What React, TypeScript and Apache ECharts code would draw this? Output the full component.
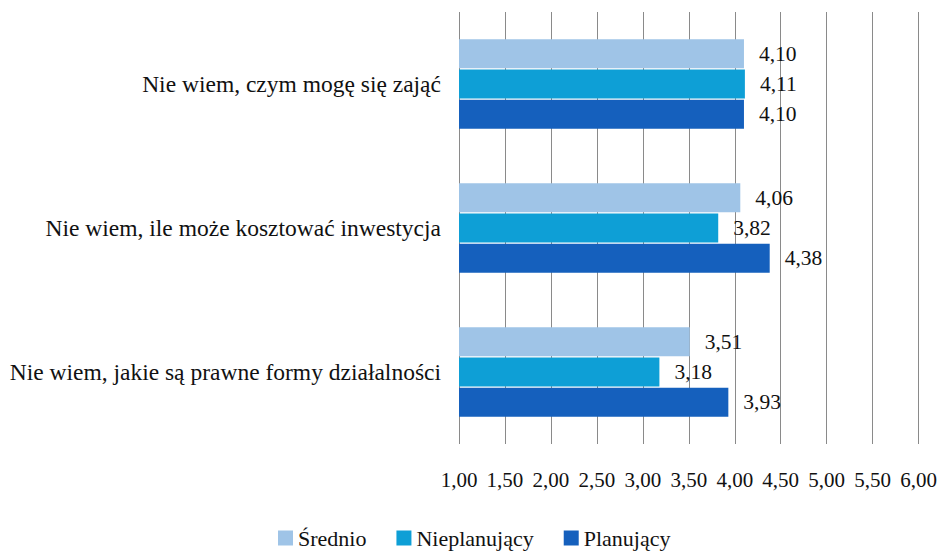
import React, { useEffect, useRef } from "react";
import * as echarts from "echarts";

const categories = [
  "Nie wiem, czym mogę się zająć",
  "Nie wiem, ile może kosztować inwestycja",
  "Nie wiem, jakie są prawne formy działalności",
];
const seriesNames = ["Średnio", "Nieplanujący", "Planujący"];
const srednio = [4.1, 4.06, 3.51];
const nieplanujacy = [4.11, 3.82, 3.18];
const planujacy = [4.1, 4.38, 3.93];
const colors = ["#9FC4E7", "#0E9FD6", "#1560BD"];

const FONT = "Liberation Serif";
const fmt = (v: number) => v.toFixed(2).replace(".", ",");

export default function App() {
  const ref = useRef<HTMLDivElement>(null);
  useEffect(() => {
    if (!ref.current) return;
    const chart = echarts.init(ref.current, undefined, { renderer: "svg" });
    const values = [srednio, nieplanujacy, planujacy];
    chart.setOption({
      animation: false,
      textStyle: { fontFamily: FONT },
      grid: { left: 459, right: 21, top: 12, bottom: 107, containLabel: false },
      legend: {
        top: 522,
        left: 273,
        icon: "rect",
        itemWidth: 15,
        itemHeight: 15,
        itemGap: 30,
        textStyle: { fontFamily: FONT, fontSize: 22, color: "#111" },
        data: seriesNames,
      },
      xAxis: {
        type: "value",
        min: 1,
        max: 6,
        interval: 0.5,
        axisLine: { show: false },
        axisTick: { show: false },
        splitLine: { lineStyle: { color: "#8a8a8a", width: 1 } },
        axisLabel: {
          formatter: (v: number) => fmt(v),
          fontFamily: FONT,
          fontSize: 21,
          color: "#111",
          margin: 25,
        },
      },
      yAxis: {
        type: "category",
        inverse: true,
        data: categories,
        axisLine: { show: false },
        axisTick: { show: false },
        axisLabel: { fontFamily: FONT, fontSize: 23.5, color: "#111", margin: 18 },
      },
      series: seriesNames.map((name, i) => ({
        name,
        type: "bar",
        data: values[i],
        barWidth: 29,
        barGap: "4%",
        itemStyle: { color: colors[i] },
        label: {
          show: true,
          position: "right",
          distance: 15,
          formatter: (p: any) => fmt(p.value),
          fontFamily: FONT,
          fontSize: 21.5,
          color: "#111",
        },
      })),
    });
    return () => chart.dispose();
  }, []);
  return <div ref={ref} style={{ width: 940, height: 551, position: "absolute", left: 0, top: 0 }} />;
}
